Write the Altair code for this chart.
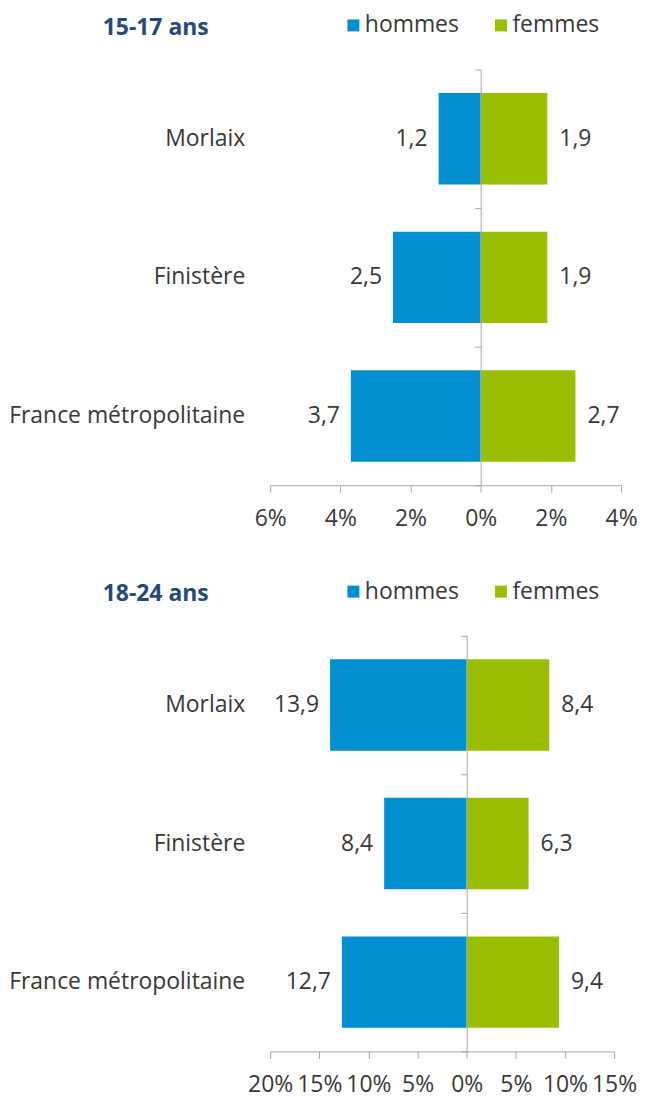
import altair as alt
import pandas as pd

categories = ["Morlaix", "Finistère", "France métropolitaine"]
sexes = ["hommes", "femmes"]
colors = ["#0090D2", "#99BF00"]

title_1 = "15-17 ans"
hommes_1 = [1.2, 2.5, 3.7]
femmes_1 = [1.9, 1.9, 2.7]
ticks_1 = [-6, -4, -2, 0, 2, 4]

title_2 = "18-24 ans"
hommes_2 = [13.9, 8.4, 12.7]
femmes_2 = [8.4, 6.3, 9.4]
ticks_2 = [-20, -15, -10, -5, 0, 5, 10, 15]

FONT = "Open Sans"
TEXT = "#383838"
GREY = "#A6A6A6"
TITLE_COLOR = "#234A7C"
FS = 23


def fmt(v):
    return f"{v:.1f}".replace(".", ",")


def make_df(h, f):
    rows = []
    for c, hv, fv in zip(categories, h, f):
        rows.append({"cat": c, "sexe": "hommes", "val": -hv, "label": fmt(hv)})
        rows.append({"cat": c, "sexe": "femmes", "val": fv, "label": fmt(fv)})
    return pd.DataFrame(rows)


def panel(title, h, f, ticks, width, height=417):
    df = make_df(h, f)
    xmin, xmax = ticks[0], ticks[-1]
    xscale = alt.Scale(domain=[xmin, xmax], nice=False, zero=False)
    yscale = alt.Scale(domain=categories, paddingInner=0, paddingOuter=0)
    zero_offset = -(0 - xmin) / (xmax - xmin) * width
    base = alt.Chart(df)
    bars = base.mark_bar(height={"band": 0.66}).encode(
        x=alt.X(
            "val:Q",
            scale=xscale,
            title=None,
            axis=alt.Axis(
                values=ticks,
                labelExpr="abs(datum.value) + '%'",
                labelOverlap=False,
                labelFlush=False,
                grid=False,
                domainColor=GREY,
                tickColor=GREY,
                tickSize=7,
                labelPadding=15,
                labelFont=FONT,
                labelFontSize=FS,
                labelColor=TEXT,
            ),
        ),
        y=alt.Y(
            "cat:N",
            scale=yscale,
            sort=categories,
            title=None,
            axis=alt.Axis(
                labels=False,
                tickBand="extent",
                offset=zero_offset,
                domainColor=GREY,
                tickColor=GREY,
                tickSize=6,
                grid=False,
                zindex=1,
            ),
        ),
        color=alt.Color(
            "sexe:N",
            scale=alt.Scale(domain=sexes, range=colors),
            legend=alt.Legend(
                title=None,
                orient="none",
                direction="horizontal",
                legendX=72,
                legendY=-56,
                symbolType="square",
                symbolSize=144,
                symbolStrokeWidth=0,
                labelFont=FONT,
                labelFontSize=FS,
                labelColor=TEXT,
                labelOffset=0,
                columnPadding=30,
                padding=0,
            ),
        ),
    )
    lab_h = base.transform_filter(alt.datum.sexe == "hommes").mark_text(
        align="right", baseline="middle", dx=-11, font=FONT, fontSize=FS, color=TEXT
    ).encode(x="val:Q", y=alt.Y("cat:N", sort=categories), text="label:N")
    lab_f = base.transform_filter(alt.datum.sexe == "femmes").mark_text(
        align="left", baseline="middle", dx=12, font=FONT, fontSize=FS, color=TEXT
    ).encode(x="val:Q", y=alt.Y("cat:N", sort=categories), text="label:N")
    cat_labels = alt.Chart(pd.DataFrame({"cat": categories})).mark_text(
        align="right", baseline="middle", font=FONT, fontSize=FS, color=TEXT
    ).encode(x=alt.value(-25), y=alt.Y("cat:N", sort=categories), text="cat:N")
    return alt.layer(bars, lab_h, lab_f, cat_labels).properties(
        width=width,
        height=height,
        title=alt.TitleParams(
            text=title,
            anchor="start",
            frame="group",
            dx=-168,
            offset=-26,
            font=FONT,
            fontSize=FS,
            fontWeight="bold",
            color=TITLE_COLOR,
        ),
    )


p1 = panel(title_1, hommes_1, femmes_1, ticks_1, 352)
p2 = panel(title_2, hommes_2, femmes_2, ticks_2, 345)

chart = (
    alt.vconcat(p1, p2, spacing=50)
    .resolve_scale(color="independent", x="independent", y="independent")
    .properties(padding={"left": 0, "top": 4, "right": 0, "bottom": 0})
    .configure_view(stroke=None)
)

chart.save("out.html", embed_options={"renderer": "svg", "actions": False})
